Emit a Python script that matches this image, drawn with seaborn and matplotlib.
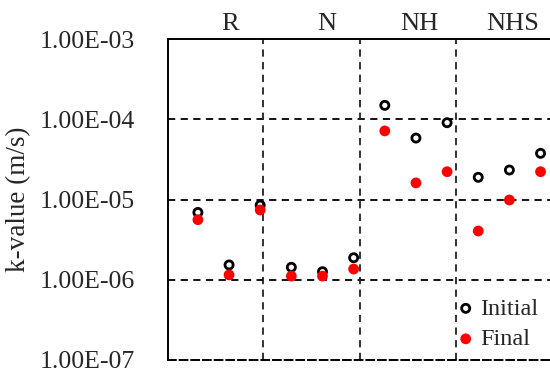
import seaborn as sns
import matplotlib.pyplot as plt
import matplotlib.ticker as mticker
import pandas as pd
import numpy as np

groups = ['R', 'N', 'NH', 'NHS']
samples = list(range(1, 13))
initial = [6.9e-6, 1.53e-6, 8.5e-6,
           1.43e-6, 1.26e-6, 1.88e-6,
           1.49e-4, 5.83e-5, 9.06e-5,
           1.89e-5, 2.33e-5, 3.76e-5]
final = [5.6e-6, 1.15e-6, 7.4e-6,
         1.11e-6, 1.11e-6, 1.36e-6,
         7.15e-5, 1.61e-5, 2.22e-5,
         4.05e-6, 9.86e-6, 2.22e-5]

df = pd.DataFrame({'sample': samples * 2,
                   'k': initial + final,
                   'series': ['Initial'] * 12 + ['Final'] * 12})

sns.set_style('white')
plt.rcParams['font.family'] = ['Liberation Serif', 'DejaVu Serif']

fig = plt.figure(figsize=(5.5, 3.74), dpi=100)
ax = fig.add_axes([168 / 550, 14 / 374, 385 / 550, 321 / 374])

sns.scatterplot(data=df[df.series == 'Initial'], x='sample', y='k', ax=ax,
                marker='o', s=34, facecolor='none', edgecolor='black',
                linewidth=2.0, label='Initial', zorder=3)
sns.scatterplot(data=df[df.series == 'Final'], x='sample', y='k', ax=ax,
                marker='o', s=60, color='red', edgecolor='none',
                label='Final', zorder=4)

ax.set_yscale('log')
ax.set_ylim(1e-7, 1e-3)
ax.set_xlim(0.04, 12.4)
ax.yaxis.set_major_locator(mticker.LogLocator(base=10, numticks=10))
ax.yaxis.set_minor_locator(mticker.NullLocator())
ax.yaxis.set_major_formatter(mticker.FuncFormatter(lambda v, p: '{:.2E}'.format(v)))
ax.set_xticks([])
ax.set_xlabel('')
ax.set_ylabel('k-value (m/s)', fontsize=19.5, labelpad=6)
ax.tick_params(axis='y', labelsize=18.5, length=0, pad=24)

# horizontal dashed gridlines
for v in [1e-4, 1e-5, 1e-6]:
    ax.axhline(v, color='black', linestyle=(0, (4, 3)), linewidth=1.3, zorder=1)
# group separators
for xs in [3.1, 6.2, 9.3]:
    ax.axvline(xs, color='#222222', linestyle=(0, (4, 3)), linewidth=1.3, zorder=1)

for name, xp in zip(groups, [2.03, 5.13, 8.1, 11.1]):
    ax.text(xp, 1.52e-3, name, ha='center', va='center', fontsize=19)

for side in ['top', 'left']:
    ax.spines[side].set_color('black')
    ax.spines[side].set_linewidth(1.4)
ax.spines['right'].set_visible(False)
ax.spines['bottom'].set_color('black')
ax.spines['bottom'].set_linestyle((0, (4, 2)))
ax.spines['bottom'].set_linewidth(1.4)

leg = ax.legend(loc='lower right', bbox_to_anchor=(1.0, -0.015), frameon=False,
                fontsize=17.5, handlelength=0.5, handletextpad=0.35,
                labelspacing=0.35, borderaxespad=0.2)

fig.savefig('out.png', dpi=100)
